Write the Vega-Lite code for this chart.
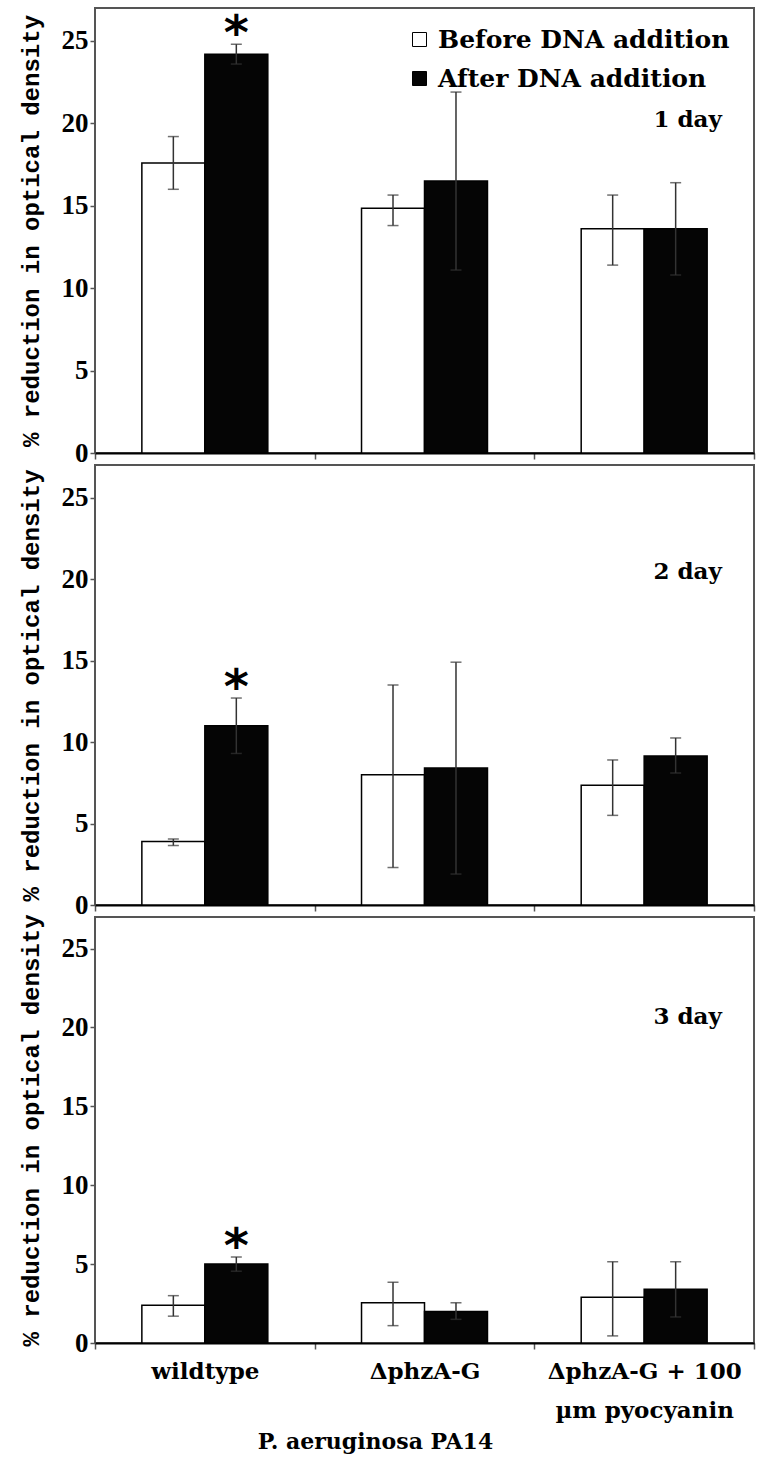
{
  "$schema": "https://vega.github.io/schema/vega-lite/v6.json",
  "padding": {"top": 7, "left": 18, "right": 5, "bottom": 5},
  "background": "white",
  "spacing": 12,
  "bounds": "flush",
  "datasets": {
    "bars": [
      {"day": "1 day", "strain": "wildtype", "condition": "Before DNA addition", "mean": 17.6, "lo": 16.0, "hi": 19.2, "sig": ""},
      {"day": "1 day", "strain": "wildtype", "condition": "After DNA addition", "mean": 24.2, "lo": 23.6, "hi": 24.8, "sig": "*"},
      {"day": "1 day", "strain": "ΔphzA-G", "condition": "Before DNA addition", "mean": 14.85, "lo": 13.8, "hi": 15.65, "sig": ""},
      {"day": "1 day", "strain": "ΔphzA-G", "condition": "After DNA addition", "mean": 16.5, "lo": 11.1, "hi": 21.9, "sig": ""},
      {"day": "1 day", "strain": "ΔphzA-G + 100 µm pyocyanin", "condition": "Before DNA addition", "mean": 13.6, "lo": 11.4, "hi": 15.65, "sig": ""},
      {"day": "1 day", "strain": "ΔphzA-G + 100 µm pyocyanin", "condition": "After DNA addition", "mean": 13.6, "lo": 10.8, "hi": 16.4, "sig": ""},
      {"day": "2 day", "strain": "wildtype", "condition": "Before DNA addition", "mean": 3.9, "lo": 3.65, "hi": 4.05, "sig": ""},
      {"day": "2 day", "strain": "wildtype", "condition": "After DNA addition", "mean": 11.0, "lo": 9.3, "hi": 12.7, "sig": "*"},
      {"day": "2 day", "strain": "ΔphzA-G", "condition": "Before DNA addition", "mean": 8.0, "lo": 2.3, "hi": 13.5, "sig": ""},
      {"day": "2 day", "strain": "ΔphzA-G", "condition": "After DNA addition", "mean": 8.4, "lo": 1.9, "hi": 14.9, "sig": ""},
      {"day": "2 day", "strain": "ΔphzA-G + 100 µm pyocyanin", "condition": "Before DNA addition", "mean": 7.35, "lo": 5.5, "hi": 8.9, "sig": ""},
      {"day": "2 day", "strain": "ΔphzA-G + 100 µm pyocyanin", "condition": "After DNA addition", "mean": 9.15, "lo": 8.1, "hi": 10.25, "sig": ""},
      {"day": "3 day", "strain": "wildtype", "condition": "Before DNA addition", "mean": 2.4, "lo": 1.7, "hi": 3.0, "sig": ""},
      {"day": "3 day", "strain": "wildtype", "condition": "After DNA addition", "mean": 5.0, "lo": 4.55, "hi": 5.45, "sig": "*"},
      {"day": "3 day", "strain": "ΔphzA-G", "condition": "Before DNA addition", "mean": 2.55, "lo": 1.1, "hi": 3.85, "sig": ""},
      {"day": "3 day", "strain": "ΔphzA-G", "condition": "After DNA addition", "mean": 2.0, "lo": 1.5, "hi": 2.55, "sig": ""},
      {"day": "3 day", "strain": "ΔphzA-G + 100 µm pyocyanin", "condition": "Before DNA addition", "mean": 2.9, "lo": 0.45, "hi": 5.15, "sig": ""},
      {"day": "3 day", "strain": "ΔphzA-G + 100 µm pyocyanin", "condition": "After DNA addition", "mean": 3.4, "lo": 1.65, "hi": 5.15, "sig": ""}
    ]
  },
  "config": {
    "view": {"stroke": "#555555", "strokeWidth": 2},
    "axisX": {
      "domainColor": "black", "domainWidth": 2, "tickBand": "extent", "tickColor": "#555555", "tickWidth": 1.5, "tickSize": 6,
      "labelFont": "DejaVu Serif", "labelFontSize": 23, "labelFontWeight": "bold", "labelColor": "black", "labelAngle": 0,
      "labelPadding": 11, "labelLineHeight": 39, "labelLimit": 400,
      "titleFont": "DejaVu Serif", "titleFontSize": 22, "titleFontWeight": "bold", "titleColor": "black", "grid": false
    }
  },
  "resolve": {"legend": {"fill": "independent"}},
  "vconcat": [
    {
      "width": 659, "height": 445,
      "data": {"name": "bars"},
      "transform": [{"filter": "datum.day == '1 day'"}],
      "encoding": {
        "x": {"field": "strain", "type": "nominal", "sort": ["wildtype", "ΔphzA-G", "ΔphzA-G + 100 µm pyocyanin"], "scale": {"paddingInner": 0, "paddingOuter": 0}, "axis": {"labels": false, "title": null}},
        "xOffset": {"field": "condition", "type": "nominal", "sort": ["Before DNA addition", "After DNA addition"], "scale": {"paddingInner": 0, "paddingOuter": 0.744}}
      },
      "layer": [
        {
          "mark": {"type": "bar", "stroke": "black", "strokeWidth": 1.5},
          "encoding": {
            "y": {"field": "mean", "type": "quantitative", "scale": {"domain": [0, 27], "nice": false}, "title": "% reduction in optical density",
              "axis": {"values": [0, 5, 10, 15, 20, 25], "labelFont": "Liberation Serif", "labelFontSize": 27, "labelFontWeight": "bold", "labelColor": "black",
                "tickColor": "#555555", "tickWidth": 1.5, "tickSize": 5, "labelPadding": 2, "domain": false, "grid": false,
                "titleFont": "Liberation Mono", "titleFontSize": 24, "titleFontWeight": "bold", "titleColor": "black", "titlePadding": 18}},
            "fill": {"field": "condition", "type": "nominal", "sort": ["Before DNA addition", "After DNA addition"], "scale": {"domain": ["Before DNA addition", "After DNA addition"], "range": ["white", "#050505"]},
              "legend": {"orient": "none", "legendX": 312, "legendY": 19, "title": null, "labelFont": "DejaVu Serif", "labelFontSize": 25, "labelFontWeight": "bold", "labelColor": "black", "labelLimit": 500, "symbolType": "square", "symbolSize": 196, "symbolStrokeColor": "black", "symbolStrokeWidth": 1, "rowPadding": 13, "labelOffset": 6}}
          }
        },
        {"mark": {"type": "rule", "color": "#333333", "strokeWidth": 1.5}, "encoding": {"y": {"field": "lo", "type": "quantitative", "title": "% reduction in optical density"}, "y2": {"field": "hi"}}},
        {"mark": {"type": "tick", "color": "#333333", "thickness": 1.5, "size": 11}, "encoding": {"y": {"field": "hi", "type": "quantitative", "title": "% reduction in optical density"}}},
        {"mark": {"type": "tick", "color": "#333333", "thickness": 1.5, "size": 11}, "encoding": {"y": {"field": "lo", "type": "quantitative", "title": "% reduction in optical density"}}},
        {"transform": [{"filter": "datum.sig != ''"}], "mark": {"type": "text", "font": "DejaVu Sans", "fontWeight": "bold", "fontSize": 48, "dy": 5, "baseline": "alphabetic", "color": "black"}, "encoding": {"y": {"field": "hi", "type": "quantitative", "title": "% reduction in optical density"}, "text": {"field": "sig"}}},
        {"data": {"values": [{"label": "1 day"}]}, "mark": {"type": "text", "font": "DejaVu Serif", "fontWeight": "bold", "fontSize": 23, "dx": 12, "baseline": "alphabetic", "color": "black"}, "encoding": {"x": {"datum": "ΔphzA-G + 100 µm pyocyanin"}, "xOffset": {"datum": "After DNA addition"}, "y": {"datum": 19.8, "type": "quantitative", "title": "% reduction in optical density"}, "text": {"field": "label"}}}
      ]
    },
    {
      "width": 659, "height": 440,
      "data": {"name": "bars"},
      "transform": [{"filter": "datum.day == '2 day'"}],
      "encoding": {
        "x": {"field": "strain", "type": "nominal", "sort": ["wildtype", "ΔphzA-G", "ΔphzA-G + 100 µm pyocyanin"], "scale": {"paddingInner": 0, "paddingOuter": 0}, "axis": {"labels": false, "title": null}},
        "xOffset": {"field": "condition", "type": "nominal", "sort": ["Before DNA addition", "After DNA addition"], "scale": {"paddingInner": 0, "paddingOuter": 0.744}}
      },
      "layer": [
        {
          "mark": {"type": "bar", "stroke": "black", "strokeWidth": 1.5},
          "encoding": {
            "y": {"field": "mean", "type": "quantitative", "scale": {"domain": [0, 27], "nice": false}, "title": "% reduction in optical density",
              "axis": {"values": [0, 5, 10, 15, 20, 25], "labelFont": "Liberation Serif", "labelFontSize": 27, "labelFontWeight": "bold", "labelColor": "black",
                "tickColor": "#555555", "tickWidth": 1.5, "tickSize": 5, "labelPadding": 2, "domain": false, "grid": false,
                "titleFont": "Liberation Mono", "titleFontSize": 24, "titleFontWeight": "bold", "titleColor": "black", "titlePadding": 18}},
            "fill": {"field": "condition", "type": "nominal", "scale": {"domain": ["Before DNA addition", "After DNA addition"], "range": ["white", "#050505"]}, "legend": null}
          }
        },
        {"mark": {"type": "rule", "color": "#333333", "strokeWidth": 1.5}, "encoding": {"y": {"field": "lo", "type": "quantitative", "title": "% reduction in optical density"}, "y2": {"field": "hi"}}},
        {"mark": {"type": "tick", "color": "#333333", "thickness": 1.5, "size": 11}, "encoding": {"y": {"field": "hi", "type": "quantitative", "title": "% reduction in optical density"}}},
        {"mark": {"type": "tick", "color": "#333333", "thickness": 1.5, "size": 11}, "encoding": {"y": {"field": "lo", "type": "quantitative", "title": "% reduction in optical density"}}},
        {"transform": [{"filter": "datum.sig != ''"}], "mark": {"type": "text", "font": "DejaVu Sans", "fontWeight": "bold", "fontSize": 48, "dy": 5, "baseline": "alphabetic", "color": "black"}, "encoding": {"y": {"field": "hi", "type": "quantitative", "title": "% reduction in optical density"}, "text": {"field": "sig"}}},
        {"data": {"values": [{"label": "2 day"}]}, "mark": {"type": "text", "font": "DejaVu Serif", "fontWeight": "bold", "fontSize": 23, "dx": 12, "baseline": "alphabetic", "color": "black"}, "encoding": {"x": {"datum": "ΔphzA-G + 100 µm pyocyanin"}, "xOffset": {"datum": "After DNA addition"}, "y": {"datum": 20, "type": "quantitative", "title": "% reduction in optical density"}, "text": {"field": "label"}}}
      ]
    },
    {
      "width": 659, "height": 426,
      "data": {"name": "bars"},
      "transform": [{"filter": "datum.day == '3 day'"}],
      "encoding": {
        "x": {"field": "strain", "type": "nominal", "sort": ["wildtype", "ΔphzA-G", "ΔphzA-G + 100 µm pyocyanin"], "scale": {"paddingInner": 0, "paddingOuter": 0},
          "axis": {"title": "P. aeruginosa PA14", "titleX": 280, "titleY": 98, "titleAlign": "center", "titleBaseline": "middle",
            "labelExpr": "datum.label == 'ΔphzA-G + 100 µm pyocyanin' ? ['ΔphzA-G + 100', 'µm pyocyanin'] : datum.label"}},
        "xOffset": {"field": "condition", "type": "nominal", "sort": ["Before DNA addition", "After DNA addition"], "scale": {"paddingInner": 0, "paddingOuter": 0.744}}
      },
      "layer": [
        {
          "mark": {"type": "bar", "stroke": "black", "strokeWidth": 1.5},
          "encoding": {
            "y": {"field": "mean", "type": "quantitative", "scale": {"domain": [0, 27], "nice": false}, "title": "% reduction in optical density",
              "axis": {"values": [0, 5, 10, 15, 20, 25], "labelFont": "Liberation Serif", "labelFontSize": 27, "labelFontWeight": "bold", "labelColor": "black",
                "tickColor": "#555555", "tickWidth": 1.5, "tickSize": 5, "labelPadding": 2, "domain": false, "grid": false,
                "titleFont": "Liberation Mono", "titleFontSize": 24, "titleFontWeight": "bold", "titleColor": "black", "titlePadding": 18}},
            "fill": {"field": "condition", "type": "nominal", "scale": {"domain": ["Before DNA addition", "After DNA addition"], "range": ["white", "#050505"]}, "legend": null}
          }
        },
        {"mark": {"type": "rule", "color": "#333333", "strokeWidth": 1.5}, "encoding": {"y": {"field": "lo", "type": "quantitative", "title": "% reduction in optical density"}, "y2": {"field": "hi"}}},
        {"mark": {"type": "tick", "color": "#333333", "thickness": 1.5, "size": 11}, "encoding": {"y": {"field": "hi", "type": "quantitative", "title": "% reduction in optical density"}}},
        {"mark": {"type": "tick", "color": "#333333", "thickness": 1.5, "size": 11}, "encoding": {"y": {"field": "lo", "type": "quantitative", "title": "% reduction in optical density"}}},
        {"transform": [{"filter": "datum.sig != ''"}], "mark": {"type": "text", "font": "DejaVu Sans", "fontWeight": "bold", "fontSize": 48, "dy": 5, "baseline": "alphabetic", "color": "black"}, "encoding": {"y": {"field": "hi", "type": "quantitative", "title": "% reduction in optical density"}, "text": {"field": "sig"}}},
        {"data": {"values": [{"label": "3 day"}]}, "mark": {"type": "text", "font": "DejaVu Serif", "fontWeight": "bold", "fontSize": 23, "dx": 12, "baseline": "alphabetic", "color": "black"}, "encoding": {"x": {"datum": "ΔphzA-G + 100 µm pyocyanin"}, "xOffset": {"datum": "After DNA addition"}, "y": {"datum": 20.2, "type": "quantitative", "title": "% reduction in optical density"}, "text": {"field": "label"}}}
      ]
    }
  ]
}
